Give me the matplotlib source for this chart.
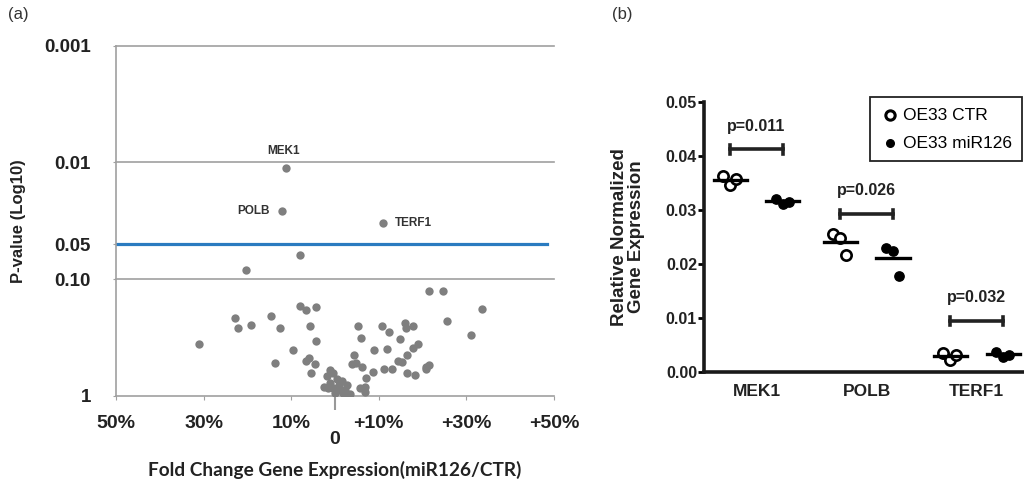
import numpy as np
import matplotlib
matplotlib.use("Agg")
from matplotlib import pyplot as plt

plt.rcParams['font.family'] = ['Liberation Sans', 'DejaVu Sans']

# panel (a): volcano plot data (fold change in %, p-value)
fold_change = [-8.0, -20.3, 21.5, 24.7, 33.6, -8.0, -6.6, -4.3, -22.8, -22.2,
               -19.1, -14.5, -12.6, -5.6, -4.3, -31.1, -9.5, -13.7, -6.7, -6.0,
               -4.6, -5.4, 25.6, 31.1, 5.3, 5.9, 10.7, 12.4, 15.9, 16.1,
               17.9, 14.8, 18.9, 17.9, 16.4, 8.9, 11.9, 4.3, 3.9, 4.9,
               6.2, 14.3, 15.2, 11.2, 13.0, 8.6, 16.5, 18.3, 20.8, 21.5,
               20.8, 7.1, 5.7, 6.8, 6.8, -1.1, -0.4, -1.9, 0.4, -2.5,
               -1.1, 0.8, 1.5, 2.7, 2.3, -0.4, 1.1, 3.4, 3.0, -1.5,
               0.0, 1.9]
p_values = [0.062, 0.083, 0.126, 0.126, 0.181, 0.170, 0.184, 0.172, 0.216, 0.262,
            0.248, 0.205, 0.263, 0.251, 0.336, 0.356, 0.404, 0.525, 0.50, 0.47,
            0.536, 0.63, 0.228, 0.30, 0.25, 0.316, 0.251, 0.282, 0.239, 0.263,
            0.253, 0.324, 0.359, 0.391, 0.443, 0.404, 0.398, 0.446, 0.536, 0.525,
            0.562, 0.50, 0.515, 0.583, 0.583, 0.619, 0.63, 0.66, 0.562, 0.543,
            0.592, 0.70, 0.86, 0.84, 0.92, 0.60, 0.64, 0.67, 0.71, 0.83,
            0.78, 0.81, 0.75, 0.81, 0.89, 0.86, 0.89, 0.96, 0.99, 0.86,
            0.94, 0.95]

hit_genes = ["MEK1", "POLB", "TERF1"]
hit_fold = [-11.2, -12.2, 10.9]
hit_p = [0.0112, 0.026, 0.033]

y_ticks_p = [1, 0.10, 0.05, 0.01, 0.001]
y_tick_labels = ["1", "0.10", "0.05", "0.01", "0.001"]
x_ticks = [-50, -30, -10, 10, 30, 50]
x_tick_labels = ["50%", "30%", "10%", "+10%", "+30%", "+50%"]

# panel (b): qPCR data
genes = ["MEK1", "POLB", "TERF1"]
ctr_values = [[0.0362, 0.0345, 0.0357],
              [0.0255, 0.0247, 0.0216],
              [0.0035, 0.0022, 0.0031]]
mir_values = [[0.0320, 0.0311, 0.0315],
              [0.0229, 0.0224, 0.0178],
              [0.0037, 0.0028, 0.0031]]
p_labels = ["p=0.011", "p=0.026", "p=0.032"]
bracket_y = [0.0412, 0.0292, 0.0094]

fig = plt.figure(figsize=(10.24, 4.83), dpi=100)

#--- panel (a)
ax1 = fig.add_axes([116/1024, 87/483, 438/1024, 350.3/483])
grid_col = '#a0a0a0'
ylog = -np.log10(p_values)
ax1.scatter(fold_change, ylog, s=36, color='#7f7f7f', zorder=3, linewidths=0)
ax1.scatter(hit_fold, -np.log10(hit_p), s=36, color='#7f7f7f', zorder=3, linewidths=0)

for g, xv, pv in zip(hit_genes, hit_fold, hit_p):
    yv = -np.log10(pv)
    if g == "MEK1":
        ax1.text(xv - 0.6, yv + 0.15, g, ha='center', va='center', fontsize=8.5,
                 fontweight='bold', color='#333333')
    elif g == "POLB":
        ax1.text(xv - 2.6, yv, g, ha='right', va='center', fontsize=8.5,
                 fontweight='bold', color='#333333')
    else:
        ax1.text(xv + 2.8, yv, g, ha='left', va='center', fontsize=8.5,
                 fontweight='bold', color='#333333')

for yv in [1, 2, 3]:
    ax1.axhline(yv, color=grid_col, lw=1.2, zorder=1, clip_on=False)
ax1.axhline(-np.log10(0.05), xmin=0, xmax=0.985, color='#2a7bc0', lw=2.3, zorder=2)

ax1.set_xlim(-50, 50)
ax1.set_ylim(0, 3)
for s in ['top', 'right']:
    ax1.spines[s].set_visible(False)
for s in ['left', 'bottom']:
    ax1.spines[s].set_color(grid_col)
    ax1.spines[s].set_linewidth(1.2)

ax1.set_yticks(-np.log10(y_ticks_p))
ax1.set_yticklabels(y_tick_labels, fontsize=13.5, fontweight='bold', color='#222222')
ax1.set_xticks(x_ticks)
ax1.set_xticklabels(x_tick_labels, fontsize=14, fontweight='bold', color='#222222')
ax1.set_xticks([0], minor=True)
ax1.set_xticklabels(['0'], minor=True, fontsize=14, fontweight='bold', color='#222222')
ax1.tick_params(axis='y', length=2, color=grid_col, pad=16)
ax1.tick_params(axis='x', which='major', length=3, color=grid_col, pad=11)
ax1.tick_params(axis='x', which='minor', length=10, width=1.5, color='#999999', pad=15)

ax1.set_ylabel("P-value (Log10)", fontsize=12, fontweight='bold', color='#222222')
ax1.yaxis.set_label_coords(-0.205, 0.5)
ax1.set_xlabel("Fold Change Gene Expression(miR126/CTR)", fontsize=13.7,
               fontweight='bold', family=['Lato', 'DejaVu Sans'], color='#222222')
ax1.xaxis.set_label_coords(0.5, -0.185)

fig.text(8/1024, 1 - 15/483, "(a)", fontsize=12, color='#333333', va='center')
fig.text(612/1024, 1 - 15/483, "(b)", fontsize=12, color='#333333', va='center')

#--- panel (b)
ax2 = fig.add_axes([704/1024, 111.3/483, 320/1024, 270/483])
pos = np.arange(len(genes))
off = 0.24
jit = [-0.065, 0.0, 0.055]
for i in range(len(genes)):
    cx = pos[i] - off
    mx = pos[i] + off
    ax2.scatter([cx + j for j in jit], ctr_values[i], s=55, facecolors='white',
                edgecolors='black', linewidths=1.9, zorder=3)
    ax2.scatter([mx + j for j in jit], mir_values[i], s=45, color='black', zorder=3)
    ax2.plot([cx - 0.15, cx + 0.15], [np.mean(ctr_values[i])] * 2, color='black',
             lw=2.4, zorder=4)
    ax2.plot([mx - 0.15, mx + 0.15], [np.mean(mir_values[i])] * 2, color='black',
             lw=2.4, zorder=4)
    # bracket
    by = bracket_y[i]
    ax2.plot([cx, mx], [by, by], color='#222222', lw=2.6, zorder=4)
    ax2.plot([cx, cx], [by - 0.0008, by + 0.0008], color='#222222', lw=2.6)
    ax2.plot([mx, mx], [by - 0.0008, by + 0.0008], color='#222222', lw=2.6)
    ax2.text(pos[i], by + 0.0043, p_labels[i], ha='center', va='center',
             fontsize=11.5, fontweight='bold', color='#222222')

ax2.set_xlim(-0.477, 2.43)
ax2.set_ylim(0, 0.05)
ax2.set_yticks([0, 0.01, 0.02, 0.03, 0.04, 0.05])
ax2.set_yticklabels(["0.00", "0.01", "0.02", "0.03", "0.04", "0.05"],
                    fontsize=11.5, fontweight='bold', color='#222222')
ax2.set_xticks(pos)
ax2.set_xticklabels(genes, fontsize=12.5, fontweight='bold', color='#222222')
ax2.tick_params(axis='x', length=0, pad=9)
ax2.tick_params(axis='y', length=4, width=2, pad=1)
for s in ['top', 'right']:
    ax2.spines[s].set_visible(False)
for s in ['left', 'bottom']:
    ax2.spines[s].set_linewidth(2.6)
    ax2.spines[s].set_color('#1a1a1a')
ax2.set_ylabel("Relative Normalized\nGene Expression", fontsize=13.5,
               fontweight='bold', color='#222222', linespacing=1.0)
ax2.yaxis.set_label_coords(-0.185, 0.5)

h1 = ax2.scatter([], [], s=45, facecolors='white', edgecolors='black', linewidths=2.2)
h2 = ax2.scatter([], [], s=30, color='black')
leg = ax2.legend([h1, h2], ["OE33 CTR", "OE33 miR126"], loc='upper right',
                 bbox_to_anchor=(1022/1024, 1 - 97/483), bbox_transform=fig.transFigure,
                 fancybox=False, framealpha=1, edgecolor='#222222', fontsize=12.5,
                 handletextpad=0.1, handlelength=1.2, borderaxespad=0,
                 borderpad=0.6, labelspacing=0.75)
leg.get_frame().set_linewidth(1.3)

fig.savefig("out.png", dpi=100)
